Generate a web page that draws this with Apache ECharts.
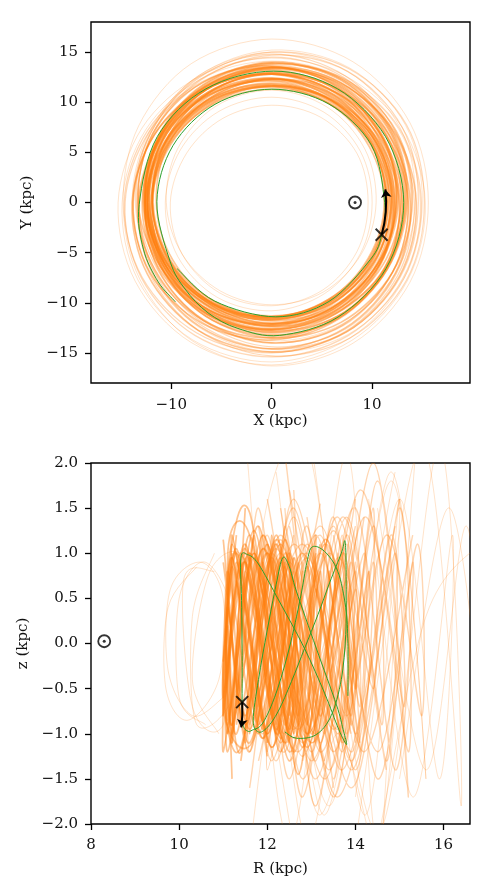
<!DOCTYPE html>
<html>
<head>
<meta charset="utf-8">
<script src="https://cdn.jsdelivr.net/npm/echarts@6/dist/echarts.min.js"></script>
<style>
html,body{margin:0;padding:0;background:#fff;}
#chart{width:492px;height:894px;}
</style>
</head>
<body>
<div id="chart"></div>
<script>
// ---------- tick labels ----------
const xTicks = [-10, 0, 10];
const yTicks = [-15, -10, -5, 0, 5, 10, 15];
const rTicks = [8, 10, 12, 14, 16];
const zTicks = [-2, -1.5, -1, -0.5, 0, 0.5, 1, 1.5, 2];

// ---------- top panel: orange orbit ensemble, galactocentric radius (kpc) read at these azimuths (deg) ----------
const loopAngles = [0, 30, 60, 90, 120, 150, 180, 210, 240, 270, 300, 330];
const orangeXYCore = [
  [11.6,11.9,12.2,12.3,12.1,11.8,11.5,11.4,11.4,11.5,11.5,11.5],
  [12.4,12.8,13.1,13.0,12.6,12.2,11.9,11.8,11.9,12.1,12.2,12.3],
  [13.3,13.7,13.8,13.5,13.0,12.6,12.4,12.4,12.7,13.0,13.1,13.2],
  [11.4,11.6,11.8,11.9,12.0,12.0,11.8,11.6,11.4,11.3,11.3,11.3],
  [14.0,14.3,14.2,13.8,13.3,12.9,12.7,12.8,13.1,13.5,13.8,13.9],
  [12.1,12.0,11.8,11.6,11.5,11.6,11.9,12.3,12.6,12.7,12.6,12.4],
  [12.8,12.6,12.4,12.3,12.5,12.8,13.2,13.5,13.6,13.5,13.2,13.0],
  [11.7,12.0,12.4,12.8,13.0,12.9,12.6,12.2,11.8,11.5,11.4,11.5],
  [12.4,12.7,13.2,13.6,13.8,13.7,13.3,12.8,12.4,12.2,12.1,12.2],
  [13.6,13.2,12.7,12.3,12.1,12.2,12.6,13.1,13.6,14.0,14.1,13.9],
  [11.8,11.6,11.4,11.3,11.4,11.7,12.0,12.3,12.4,12.3,12.1,11.9],
  [12.0,12.4,12.9,13.2,13.2,12.9,12.5,12.1,11.8,11.7,11.7,11.8],
  [13.0,12.8,12.7,12.8,13.1,13.5,13.8,14.0,13.9,13.7,13.4,13.2],
  [12.3,12.2,12.1,12.2,12.4,12.7,12.9,13.0,12.9,12.7,12.5,12.4],
  [13.4,13.8,14.0,13.9,13.5,13.0,12.6,12.3,12.2,12.4,12.7,13.1],
  [12.7,12.3,11.9,11.7,11.7,11.9,12.3,12.7,13.1,13.3,13.3,13.1],
  [11.3,11.5,11.8,12.1,12.4,12.5,12.4,12.1,11.7,11.4,11.2,11.2],
  [13.8,13.5,13.1,12.8,12.7,12.9,13.3,13.8,14.3,14.6,14.5,14.2],
  [11.9,12.2,12.6,12.9,13.0,12.8,12.4,12.0,11.7,11.6,11.6,11.7],
  [12.5,12.8,13.0,12.9,12.6,12.2,11.9,11.7,11.7,11.8,12.0,12.2],
  [11.2,11.2,11.4,11.6,11.8,11.9,11.9,11.8,11.6,11.4,11.2,11.1],
  [13.1,13.3,13.5,13.5,13.3,13.0,12.7,12.5,12.5,12.6,12.8,13.0],
  [12.2,12.0,11.8,11.6,11.6,11.8,12.1,12.5,12.8,12.9,12.8,12.5],
  [14.4,14.1,13.7,13.4,13.3,13.5,13.9,14.3,14.7,14.9,14.9,14.7],
  [11.5,11.7,12.0,12.4,12.6,12.5,12.2,11.9,11.6,11.4,11.3,11.4],
  [12.9,13.2,13.4,13.3,13.0,12.6,12.3,12.1,12.1,12.3,12.5,12.7],
  [12.0,11.8,11.7,11.8,12.0,12.3,12.6,12.8,12.8,12.6,12.3,12.1],
  [13.5,13.9,14.1,14.0,13.6,13.1,12.8,12.6,12.6,12.8,13.1,13.3],
  [11.5,11.4,11.4,11.5,11.8,12.1,12.4,12.5,12.4,12.1,11.8,11.6],
  [12.6,12.9,13.3,13.5,13.4,13.0,12.6,12.3,12.1,12.1,12.3,12.4],
  [11.9,12.1,12.3,12.4,12.3,12.1,11.9,11.7,11.6,11.6,11.7,11.8],
  [12.2,12.5,12.7,12.8,12.7,12.5,12.2,12.0,11.9,12.0,12.1,12.2],
  [11.4,11.5,11.6,11.7,11.9,12.2,12.4,12.3,12.0,11.7,11.5,11.4],
  [13.2,13.5,13.6,13.4,13.1,12.8,12.6,12.7,12.9,13.2,13.3,13.3]
];
const orangeXYMid = [
  [14.6,15.0,15.1,14.7,14.1,13.6,13.4,13.6,14.1,14.6,14.9,14.8],
  [13.9,14.2,14.6,14.8,14.5,13.9,13.5,13.4,13.8,14.4,14.6,14.3],
  [14.9,14.7,14.3,13.9,13.8,14.1,14.6,15.0,15.3,15.4,15.3,15.1],
  [13.6,14.0,14.4,14.5,14.2,13.7,13.3,13.2,13.5,14.0,14.2,13.9],
  [15.2,15.5,15.4,15.0,14.4,13.9,13.8,14.1,14.7,15.3,15.6,15.5],
  [14.2,14.0,13.8,13.7,13.9,14.3,14.7,14.9,15.0,15.0,14.8,14.5]
];
const orangeXYFaint = [
  [15.6,15.9,16.2,16.3,16.0,15.3,14.8,15.2,15.9,16.3,16.2,15.9],
  [15.0,15.4,15.5,15.2,14.6,14.1,13.9,14.0,14.4,14.9,15.2,15.2],
  [9.6,9.8,9.8,9.7,9.7,9.8,10.1,10.3,10.4,10.3,10.1,9.8],
  [10.4,10.7,11.0,11.2,11.1,10.8,10.5,10.3,10.2,10.2,10.3,10.3],
  [14.8,14.6,14.3,14.1,14.2,14.5,14.9,15.4,15.8,15.9,15.6,15.2],
  [14.3,14.8,15.1,15.0,14.6,14.0,13.6,13.4,13.5,13.8,14.0,14.2],
  [10.0,10.2,10.4,10.5,10.5,10.5,10.6,10.8,10.9,10.8,10.5,10.2],
  [15.3,15.0,14.6,14.4,14.5,14.9,15.3,15.7,16.1,16.2,15.9,15.6]
];

// ---------- top panel: green orbit (X, Y in kpc) ----------
const greenXY = [
  [-9.42,-6.60],[-5.68,-9.83],[0.4,-11.4],[5.70,-9.87],[9.83,-5.68],[10.95,-3.22],[11.25,0.0],
  [9.92,5.73],[5.68,9.83],[0.0,11.3],[-5.65,9.79],[-9.83,5.68],[-11.44,0.1],[-10.13,-5.85],
  [-8.63,-8.63],[-6.35,-11.0],[-3.36,-12.56],[0.8,-13.25],[6.6,-11.43],[11.39,-6.58],[13.15,0.0],
  [11.34,6.55],[6.55,11.34],[0.2,13.1],[-6.55,11.34],[-11.39,6.58],[-13.2,-0.2],[-12.78,-4.65],
  [-11.30,-7.92],[-9.6,-9.9]
];
const sunXY = [8.3, 0];
const nowXY = [10.95, -3.22];
const arrowXY = [[10.95, -3.22], [11.32, 1.3]];

// ---------- bottom panel: orange orbit ensemble (R, z in kpc), turning points ----------
const orangeRzCore = [
  [[11.0,0.9],[11.6,-0.95],[12.3,0.9],[12.5,-0.6],[12.0,1.0],[11.2,-0.9],[11.1,0.8],[11.8,-1.0],[12.4,0.85],[12.2,-0.9]],
  [[11.1,-1.0],[11.7,1.0],[12.4,-0.9],[12.6,0.7],[11.9,-1.05],[11.2,0.95],[11.0,-0.6],[11.5,1.05],[12.2,-1.0],[12.6,0.4]],
  [[11.3,1.2],[11.0,-0.4],[11.4,-1.15],[12.2,1.1],[12.7,-0.9],[12.4,1.15],[11.6,-1.2],[11.1,0.9],[11.6,1.2],[12.5,-1.1]],
  [[11.05,-0.6],[11.5,0.9],[12.2,-0.95],[12.5,0.5],[11.9,-0.95],[11.2,0.85],[11.1,-1.0],[11.7,0.95],[12.5,-0.8]],
  [[11.5,0.95],[12.3,-1.1],[12.8,0.8],[12.3,-1.05],[11.5,1.1],[11.0,-0.8],[11.3,1.05],[12.1,-1.15],[12.7,0.9]],
  [[11.2,1.0],[11.0,-0.7],[11.7,-1.05],[12.4,1.0],[12.6,-0.5],[11.9,1.05],[11.2,-1.0],[11.3,0.9],[12.0,-1.0],[12.6,0.95]],
  [[11.4,-1.3],[12.2,1.15],[13.0,-1.0],[13.2,0.8],[12.5,-1.2],[11.6,1.2],[11.2,-1.1],[11.7,1.25],[12.6,-1.2],[13.1,1.0]],
  [[11.1,0.5],[11.3,-1.0],[12.1,0.95],[12.9,-1.0],[13.1,0.6],[12.4,-1.1],[11.5,1.0],[11.0,-0.8],[11.6,1.0],[12.5,-1.05]],
  [[11.2,-1.5],[11.1,0.6],[11.6,1.45],[12.5,-1.3],[13.1,1.2],[12.7,-1.45],[11.8,1.3],[11.2,-1.1],[11.5,1.5]],
  [[12.0,1.1],[12.9,-1.15],[13.7,1.0],[14.0,-0.5],[13.3,1.15],[12.4,-1.1],[11.9,0.9],[12.3,-1.2],[13.2,1.1]],
  [[11.0,-0.2],[11.3,1.0],[12.0,-1.0],[12.6,0.8],[12.5,-0.95],[11.7,1.0],[11.1,-0.85],[11.4,1.0],[12.2,-1.0]],
  [[11.3,0.7],[11.9,-1.05],[12.6,0.95],[12.7,-0.8],[11.9,1.05],[11.2,-0.9],[11.1,0.4],[11.6,-1.1],[12.4,0.9]],
  [[11.0,1.15],[11.5,-0.9],[12.3,0.95],[12.9,-0.9],[12.9,0.85],[12.1,-1.15],[11.3,1.0],[11.0,-1.2],[11.7,1.2]],
  [[11.3,-0.9],[12.0,1.0],[12.8,-1.15],[13.4,0.8],[13.2,-0.8],[12.3,1.1],[11.5,-0.8],[11.2,1.2],[12.0,-1.1]],
  [[11.1,0.2],[11.4,-1.2],[12.2,1.2],[12.6,-1.0],[11.9,1.2],[11.1,-1.2],[11.2,1.1],[12.0,-1.25]],
  [[11.6,1.0],[11.1,-0.9],[11.2,0.95],[11.9,-0.85],[12.5,1.0],[12.3,-1.0],[11.5,0.9],[11.05,-0.5]]
];
const orangeRzMid = [
  [[11.8,1.3],[12.8,-1.1],[13.8,1.2],[14.1,-0.7],[13.3,1.1],[12.2,-1.3],[11.7,1.0],[12.4,-1.0],[13.5,1.3],[14.0,-1.1]],
  [[12.0,-1.2],[12.9,1.1],[13.8,-1.0],[13.9,0.9],[13.0,-1.1],[12.0,1.2],[11.8,-0.9],[12.8,1.0],[13.7,-1.1]],
  [[12.3,1.5],[13.4,-1.4],[14.4,1.3],[14.6,-0.9],[13.7,1.4],[12.5,-1.5],[12.1,1.2],[13.1,-1.5],[14.2,1.4]],
  [[11.9,-0.8],[12.9,1.0],[13.7,-1.1],[13.8,0.7],[12.9,-1.0],[12.0,1.1],[11.8,-0.9],[12.8,1.0],[13.6,-0.9]],
  [[12.5,1.7],[13.9,-1.6],[15.0,1.5],[15.2,-1.2],[14.1,1.7],[12.8,-1.7],[12.4,1.3],[13.6,-1.7],[15.0,1.6]],
  [[12.8,-1.3],[13.8,1.4],[14.7,-1.3],[14.9,1.0],[13.9,-1.4],[12.9,1.3],[12.6,-1.0],[13.6,1.4],[14.7,-1.4]],
  [[13.5,1.2],[14.5,-1.2],[15.4,1.1],[15.5,-0.8],[14.7,1.2],[13.7,-1.2],[13.3,1.0],[14.2,-1.2],[15.3,1.2]],
  [[11.6,-1.6],[12.6,1.4],[13.5,-1.5],[13.7,1.2],[12.8,-1.5],[11.8,1.5],[11.6,-1.2],[12.6,1.5],[13.5,-1.6]],
  [[13.0,1.0],[13.8,-0.8],[14.4,0.9],[14.4,-0.5],[13.6,0.95],[12.8,-0.9],[12.7,0.5],[13.6,-0.95],[14.3,0.8]],
  [[12.2,-1.0],[13.1,1.2],[14.0,-1.0],[14.3,0.8],[13.5,-1.2],[12.5,1.0],[12.3,-0.8],[13.2,1.2],[14.1,-1.1]],
  [[12.9,1.4],[13.9,-1.3],[14.8,1.2],[15.1,-0.7],[14.2,1.4],[13.1,-1.3],[12.8,0.9],[13.7,-1.4],[14.9,1.3]],
  [[11.7,0.5],[12.4,-1.2],[13.3,1.1],[13.9,-0.9],[14.0,0.6],[13.2,-1.2],[12.2,1.1],[11.8,-0.7],[12.6,1.2]],
  [[13.2,-0.6],[14.0,1.5],[14.9,-1.4],[15.3,0.9],[14.5,-1.5],[13.5,1.4],[13.1,-1.1],[14.0,1.6]],
  [[12.4,2.1],[13.5,-1.7],[14.5,1.8],[15.2,-1.7],[14.4,2.0],[13.1,-1.8],[12.6,1.7]],
  [[11.5,-1.0],[12.5,0.9],[13.3,-1.0],[13.5,0.9],[12.6,-1.05],[11.6,0.95],[11.4,-0.9],[12.3,1.0],[13.2,-0.95]],
  [[11.9,1.2],[11.5,-1.1],[12.3,1.15],[13.2,-1.1],[13.6,1.0],[13.0,-1.2],[12.0,1.1],[11.6,-1.0]],
  [[11.5,1.1],[13.0,-1.1],[14.0,0.9],[13.1,-1.0],[11.6,1.0],[11.4,-0.9],[12.8,1.1],[13.9,-1.0]],
  [[12.0,-1.1],[13.4,1.0],[13.9,-0.8],[12.6,1.1],[11.6,-1.0],[12.2,1.05],[13.6,-1.1]],
  [[11.4,0.9],[12.7,-1.2],[13.8,1.1],[13.6,-1.0],[12.3,1.2],[11.5,-1.1],[12.1,1.0],[13.5,-1.2]],
  [[12.5,1.3],[13.9,-1.2],[14.2,1.0],[13.0,-1.3],[12.1,1.2],[12.8,-1.25],[14.0,1.3]],
  [[11.8,-1.3],[13.2,1.3],[14.1,-1.2],[13.5,1.25],[12.1,-1.3],[11.9,1.2],[13.3,-1.3]],
  [[12.2,0.95],[13.5,-0.95],[14.0,0.8],[12.9,-1.0],[11.9,0.9],[12.6,-0.95],[13.8,1.0]],
  [[11.6,-0.9],[12.9,0.95],[13.7,-0.85],[13.2,1.0],[11.9,-1.0],[11.5,0.8],[12.7,-0.95],[13.7,0.9]],
  [[12.0,1.6],[13.3,-1.5],[14.4,1.5],[14.0,-1.4],[12.6,1.6],[12.0,-1.4],[13.2,1.55]]
];
const orangeRzFaint = [
  [[12.2,1.9],[13.4,-1.8],[14.8,1.9],[15.6,-1.5],[14.8,1.8],[13.3,-1.9],[12.4,1.5],[13.2,-1.9],[14.9,1.9]],
  [[13.0,2.2],[14.5,-2.1],[15.9,2.2],[16.4,-1.8],[15.5,2.2],[14.0,-2.2]],
  [[12.6,-2.3],[11.8,0.8],[12.9,2.2],[14.2,-1.9],[15.0,1.6],[14.6,-2.3]],
  [[14.5,1.5],[15.6,-1.4],[16.5,1.3],[16.9,-0.9],[16.1,1.5],[15.0,-1.5]],
  [[11.5,2.3],[12.5,-2.2],[13.8,2.1],[14.5,-2.2],[15.4,2.3]],
  [[10.4,0.85],[9.75,0.4],[9.7,-0.5],[10.2,-0.85],[10.9,-0.4],[11.0,0.5],[10.5,0.9],[9.8,0.6],[9.75,-0.3],[10.3,-0.8],[11.0,-0.6]],
  [[10.6,-0.9],[10.0,-0.6],[10.0,0.5],[10.6,0.9],[11.2,0.3],[11.0,-0.9],[10.3,-0.7],[10.1,0.7],[10.8,0.8]],
  [[10.8,1.0],[10.3,0.3],[10.4,-0.9],[11.3,-0.5],[11.5,0.9],[10.7,0.8],[10.3,-0.4],[10.9,-1.0]],
  [[14.0,-1.7],[15.0,1.6],[15.9,-1.5],[16.2,1.2],[15.3,-1.7],[14.3,1.6]],
  [[14.5,-2.2],[15.6,0.3],[16.8,1.1]],
  [[11.6,-2.3],[12.2,-0.5],[12.9,-2.2],[13.6,-1.0],[14.4,-2.3]]
];

// ---------- bottom panel: green orbit (R, z in kpc) ----------
const greenRz = [
  [12.40,-0.98],[12.66,-1.05],[13.11,-1.01],[13.45,-0.80],[13.68,-0.40],[13.78,0.10],[13.79,0.60],[13.77,1.12],
  [13.68,1.00],[13.42,0.68],[13.15,0.32],[12.85,-0.05],[12.55,-0.42],[12.25,-0.75],[12.0,-0.93],[11.8,-0.98],
  [11.68,-0.85],[11.8,-0.4],[12.0,0.15],[12.2,0.65],[12.35,0.95],
  [12.5,0.85],[12.66,0.58],[13.11,-0.05],[13.57,-0.68],[13.72,-0.95],[13.80,-1.12],
  [13.62,-0.95],[13.30,-0.55],[12.84,-0.05],[12.27,0.47],[11.80,0.88],[11.55,0.985],[11.40,0.946],
  [11.42,0.40],[11.43,-0.20],[11.43,-0.65],[11.45,-0.90],[11.55,-0.97],
  [11.66,-0.96],[11.90,-0.88],[12.20,-0.55],[12.50,-0.05],[12.75,0.50],[12.90,0.90],[13.02,1.07],
  [13.30,1.02],[13.60,0.80],[13.78,0.40],[13.83,0.0],[13.83,-0.58]
];
const sunRz = [8.3, 0.025];
const nowRz = [11.43, -0.65];
const arrowRz = [[11.43, -0.65], [11.41, -0.93]];

// ---------- styling ----------
const FONT = 'DejaVu Serif';
const ORANGE = '#ff7f0e';
const GREEN = '#2ca02c';
const minus = s => String(s).replace('-', '\u2212');
const fmtInt = v => minus(v);
const fmt1 = v => minus(Number(v).toFixed(1));

function axisCommon(ticks, fmt, name, nameGap, margin) {
  return {
    type: 'value',
    axisLine: { show: false, onZero: false },
    axisTick: { show: true, length: 6, lineStyle: { color: '#000', width: 1.3 }, customValues: ticks },
    axisLabel: { customValues: ticks, formatter: fmt, fontFamily: FONT, fontSize: 15, color: '#111', margin: margin },
    splitLine: { show: false },
    name: name, nameLocation: 'middle', nameGap: nameGap,
    nameTextStyle: { fontFamily: FONT, fontSize: 15, color: '#111' }
  };
}

// smooth curve through the axis-mapped points (Catmull-Rom as cubic Bezier)
function splinePath(pts, closed) {
  const n = pts.length;
  const get = i => closed ? pts[(i + n) % n] : pts[Math.max(0, Math.min(n - 1, i))];
  let d = 'M' + pts[0][0] + ',' + pts[0][1];
  const segs = closed ? n : n - 1;
  for (let i = 0; i < segs; i++) {
    const p0 = get(i - 1), p1 = get(i), p2 = get(i + 1), p3 = get(i + 2);
    const c1x = p1[0] + (p2[0] - p0[0]) / 6, c1y = p1[1] + (p2[1] - p0[1]) / 6;
    const c2x = p2[0] - (p3[0] - p1[0]) / 6, c2y = p2[1] - (p3[1] - p1[1]) / 6;
    d += 'C' + c1x + ',' + c1y + ' ' + c2x + ',' + c2y + ' ' + p2[0] + ',' + p2[1];
  }
  if (closed) d += 'Z';
  return d;
}

const series = [];
// radius-at-azimuth loops expressed as (X, Y) data points
const loopToXY = loop => loop.map((r, i) => {
  const a = loopAngles[i] * Math.PI / 180;
  return [r * Math.cos(a), r * Math.sin(a)];
});

function curveSeries(axisIdx, curves, closed, color, width, alpha, z) {
  series.push({
    type: 'custom', coordinateSystem: 'cartesian2d', xAxisIndex: axisIdx, yAxisIndex: axisIdx,
    clip: true, silent: true, z: z,
    data: curves.map((c, i) => [i]),
    encode: { x: 0 },
    renderItem: function (params, api) {
      const pts = curves[params.dataIndex].map(p => api.coord(p));
      return {
        type: 'path',
        shape: { pathData: splinePath(pts, closed) },
        style: { stroke: color, fill: 'none', lineWidth: width, opacity: alpha }
      };
    }
  });
}

curveSeries(0, orangeXYFaint.map(loopToXY), true, ORANGE, 1, 0.22, 1);
curveSeries(0, orangeXYMid.map(loopToXY), true, ORANGE, 1.2, 0.3, 1);
curveSeries(0, orangeXYCore.map(loopToXY), true, ORANGE, 1.6, 0.45, 2);
curveSeries(0, [greenXY], false, GREEN, 1, 1, 5);

curveSeries(1, orangeRzFaint, false, ORANGE, 1, 0.22, 1);
curveSeries(1, orangeRzMid, false, ORANGE, 1.4, 0.32, 2);
curveSeries(1, orangeRzCore, false, ORANGE, 1.7, 0.45, 3);
curveSeries(1, [greenRz], false, GREEN, 1, 1, 5);

function markers(xi, sun, now, arrow, curv) {
  series.push({
    type: 'lines', coordinateSystem: 'cartesian2d', xAxisIndex: xi, yAxisIndex: xi, silent: true, z: 8,
    symbol: ['none', 'arrow'], symbolSize: [0, 8],
    lineStyle: { color: '#000', width: 2, curveness: curv, opacity: 1 },
    data: [{ coords: arrow }]
  });
  series.push({
    type: 'scatter', xAxisIndex: xi, yAxisIndex: xi, data: [now], silent: true, z: 9,
    symbol: 'path://M0,0L10,10M10,0L0,10', symbolSize: 12,
    itemStyle: { color: 'none', borderColor: '#000', borderWidth: 2 }
  });
  series.push({
    type: 'scatter', xAxisIndex: xi, yAxisIndex: xi, data: [sun], silent: true, z: 9,
    symbol: 'circle', symbolSize: 12,
    itemStyle: { color: 'rgba(0,0,0,0)', borderColor: '#000', borderWidth: 1.8 }
  });
  series.push({
    type: 'scatter', xAxisIndex: xi, yAxisIndex: xi, data: [sun], silent: true, z: 9,
    symbol: 'circle', symbolSize: 3, itemStyle: { color: '#000' }
  });
}
markers(0, sunXY, nowXY, arrowXY, -0.1);
markers(1, sunRz, nowRz, arrowRz, 0.05);

const option = {
  animation: false,
  backgroundColor: '#fff',
  grid: [
    { left: 91, top: 22, width: 379, height: 361, show: true, borderColor: '#000', borderWidth: 1.4, backgroundColor: 'transparent' },
    { left: 91, top: 463, width: 379, height: 361, show: true, borderColor: '#000', borderWidth: 1.4, backgroundColor: 'transparent' }
  ],
  xAxis: [
    Object.assign(axisCommon(xTicks, fmtInt, 'X (kpc)', 30, 15), { gridIndex: 0, min: -18, max: 19.75 }),
    Object.assign(axisCommon(rTicks, fmtInt, 'R (kpc)', 38, 14), { gridIndex: 1, min: 8, max: 16.6 })
  ],
  yAxis: [
    Object.assign(axisCommon(yTicks, fmtInt, 'Y (kpc)', 56, 13), { gridIndex: 0, min: -18, max: 18 }),
    Object.assign(axisCommon(zTicks, fmt1, 'z (kpc)', 58, 13), { gridIndex: 1, min: -2, max: 2 })
  ],
  series: series
};

const chart = echarts.init(document.getElementById('chart'), null, { renderer: 'canvas' });
chart.setOption(option);
</script>
</body>
</html>
